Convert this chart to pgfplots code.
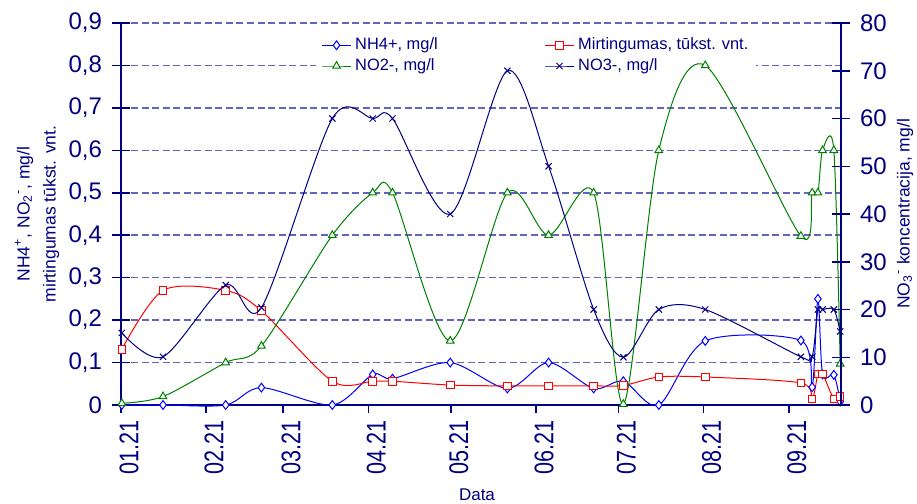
\documentclass[border=0pt]{standalone}
\usepackage{pgfplots}
\pgfplotsset{compat=1.18}
\usepackage{pgfplotstable}
\usepackage{graphicx}
\usepackage{fontspec}
\setmainfont{Liberation Sans}
\definecolor{navytext}{RGB}{0,0,128}
\definecolor{gridc}{RGB}{100,100,190}
\definecolor{nhblue}{RGB}{0,0,255}
\definecolor{mred}{RGB}{255,0,0}
\definecolor{ngreen}{RGB}{0,128,0}
\definecolor{nnavy}{RGB}{0,0,128}

\pgfplotstableread{
day   nh    mir   no2   no3
0.3   0     0.131 0.004 15.1
15.3  0     0.270 0.020 10.1
38.1  0     0.270 0.100 25.1
51.1  0.041 0.222 0.139 20.4
76.9  0     0.056 0.400 60.0
91.6  0.072 0.056 0.500 60.0
98.8  0.062 0.056 0.500 60.0
119.8 0.100 0.047 0.151 40.0
140.6 0.039 0.045 0.500 70.0
155.6 0.100 0.045 0.400 50.0
172.0 0.039 0.045 0.500 20.0
182.8 0.056 0.046 0.002 10.0
195.7 0.000 0.066 0.600 20.0
212.6 0.151 0.066 0.800 20.0
247.4 0.152 0.052 0.398 10.1
251.5 0.042 0.014 0.500 10.1
253.6 0.250 0.073 0.500 20.0
255.3 0.072 0.073 0.600 20.0
259.4 0.071 0.014 0.600 20.0
261.7 0.008 0.020 0.097 15.4
}\data

\pgfplotsset{
  common/.style={scale only axis, width=360pt, height=191pt,
    xmin=0, xmax=262, at={(0,0)}, anchor=south west},
  nhst/.style={draw=nhblue, line width=0.5pt, mark=diamond*, mark size=2.2pt, mark options={draw=nhblue, fill=white, solid}},
  mirst/.style={color=mred, draw=mred, line width=0.5pt, mark=square*, mark size=1.9pt, mark options={draw=mred, fill=white, solid}},
  no2st/.style={draw=ngreen, line width=0.5pt, mark=triangle*, mark size=2.2pt, mark options={draw=ngreen, fill=white, solid}},
  no3st/.style={draw=nnavy, line width=0.5pt, mark=x, mark size=2.2pt, mark options={draw=nnavy, solid}},
  mylegend/.style={
    legend columns=1,
    legend image code/.code={\draw[mark repeat=2,mark phase=2] plot coordinates {(0cm,0cm) (0.25cm,0cm) (0.5cm,0cm)}; \path (0.535cm,0cm);},
    legend style={at={(axis description cs:#1,0.978)}, anchor=north west,
      draw=none, fill=white, font=\fontsize{8.2}{9.5}\selectfont, text=navytext,
      nodes={inner sep=1pt, text height=6pt, text depth=1.5pt},
      row sep=0.85pt},
    legend cell align=left},
}

\begin{document}
\begin{tikzpicture}
\path[use as bounding box] (-60.5pt,-49.5pt) rectangle (398pt,202.5pt);

% grid + x axis + first legend column
\begin{axis}[common, ymin=0, ymax=0.9,
  ytick={0,0.1,0.2,0.3,0.4,0.5,0.6,0.7,0.8,0.9},
  yticklabels={},
  xtick={0,31,59,90,120,151,181,212,243},
  xticklabels={\scalebox{0.8}[1]{01.21},\scalebox{0.8}[1]{02.21},\scalebox{0.8}[1]{03.21},\scalebox{0.8}[1]{04.21},\scalebox{0.8}[1]{05.21},\scalebox{0.8}[1]{06.21},\scalebox{0.8}[1]{07.21},\scalebox{0.8}[1]{08.21},\scalebox{0.8}[1]{09.21}},
  axis x line*=bottom, axis y line*=left,
  x axis line style={-, navytext, line width=0.75pt},
  y axis line style={-, draw=none},
  ytick style={draw=none},
  xtick style={navytext, line width=0.75pt},
  tick align=outside, major tick length=4pt,
  xticklabel style={font=\fontsize{13.5}{15}\selectfont, text=navytext, rotate=90, anchor=east, yshift=-4pt},
  every axis x label/.style={at={(axis description cs:0.5,0)}, yshift=-45pt, xshift=-2pt, anchor=center,
     font=\fontsize{8.5}{10}\selectfont, text=navytext},
  xlabel={Data},
  ymajorgrids, grid style={gridc, dash pattern=on 3.5pt off 1.75pt, line width=0.75pt},
  mylegend=0.270]
\addlegendimage{nhst}\addlegendentry{\makebox[88pt][l]{NH4+, mg/l}}
\addlegendimage{no2st}\addlegendentry{\makebox[88pt][l]{NO2-, mg/l}}
\end{axis}

% second legend column
\begin{axis}[common, ymin=0, ymax=0.9, hide axis, mylegend=0.5797]
\addlegendimage{mirst}\addlegendentry{Mirtingumas, tūkst. vnt.}
\addlegendimage{no3st}\addlegendentry{NO3-, mg/l}
\end{axis}

% left axis
\begin{axis}[common, ymin=0, ymax=0.9,
  ytick={0,0.1,0.2,0.3,0.4,0.5,0.6,0.7,0.8,0.9},
  axis x line=none, axis y line*=left,
  y axis line style={-},
  axis line style={navytext, line width=0.75pt},
  tick align=center, major tick length=9pt,
  major tick style={navytext, line width=0.75pt},
  /pgf/number format/assume math mode=true,
  /pgf/number format/use comma, /pgf/number format/fixed, /pgf/number format/precision=1,
  yticklabel style={font=\fontsize{12}{14}\selectfont, text=navytext, xshift=-1.5pt},
  every axis y label/.style={at={(axis description cs:0,0.5)}, xshift=-42pt, rotate=90, anchor=center,
     align=center, font=\fontsize{8.75}{13}\selectfont, text=navytext},
  ylabel={NH4\textsuperscript{+}, NO\textsubscript{2}\textsuperscript{-}, mg/l\\mirtingumas tūkst. vnt.},
  clip=false]
\addplot[nhst, smooth, tension=0.5] table[x=day, y=nh] {\data};
\addplot[mirst, smooth, tension=0.5] table[x=day, y=mir] {\data};
\addplot[no2st, smooth, tension=0.5] table[x=day, y=no2] {\data};
\end{axis}

% right axis
\begin{axis}[common, ymin=0, ymax=80,
  ytick={0,10,20,30,40,50,60,70,80},
  axis y line*=right, axis x line=none,
  y axis line style={-},
  axis line style={navytext, line width=0.75pt},
  tick align=center, major tick length=9pt,
  major tick style={navytext, line width=0.75pt},
  /pgf/number format/assume math mode=true,
  yticklabel style={font=\fontsize{12}{14}\selectfont, text=navytext, xshift=1.5pt},
  every axis y label/.style={at={(axis description cs:1,0.5)}, xshift=32pt, rotate=90, anchor=center,
     font=\fontsize{8.75}{13}\selectfont, text=navytext},
  ylabel={NO\textsubscript{3}\textsuperscript{-} koncentracija, mg/l},
  clip=false]
\addplot[no3st, smooth, tension=0.5] table[x=day, y=no3] {\data};
\end{axis}
\end{tikzpicture}
\end{document}
